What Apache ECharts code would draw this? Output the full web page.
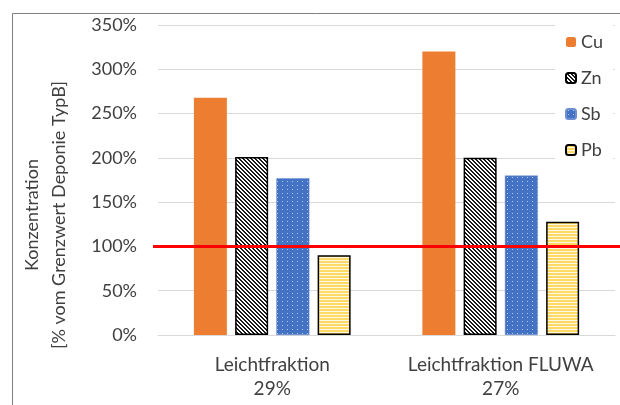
<!DOCTYPE html>
<html>
<head>
<meta charset="utf-8">
<script src="https://cdn.jsdelivr.net/npm/echarts@6/dist/echarts.min.js"></script>
<style>
  html, body { margin: 0; padding: 0; background: #fff; }
  #chart { width: 620px; height: 405px; }
</style>
</head>
<body>
<div id="chart"></div>
<script>
// Categories (two lines each: fraction name and share)
const categories = ['Leichtfraktion\n29%', 'Leichtfraktion FLUWA\n27%'];
// Concentrations in % of the landfill class B limit
const cu = [268, 320];
const zn = [201, 200];
const sb = [177, 180];
const pb = [90, 128];
const seriesNames = ['Cu', 'Zn', 'Sb', 'Pb'];
// Limit value line (100 %)
const limitValue = 100;
const limitX = [0, 1];
const yTicks = { min: 0, max: 350, interval: 50 };

const FONT = 'Lato';
const TXT = '#404040';

// Fill patterns built on small canvas tiles
function tile(w, h, draw) {
  const c = document.createElement('canvas');
  c.width = w; c.height = h;
  const ctx = c.getContext('2d');
  draw(ctx);
  return { image: c, repeat: 'repeat' };
}
const znFill = tile(4, 4, ctx => {
  ctx.fillStyle = '#ffffff'; ctx.fillRect(0, 0, 4, 4);
  ctx.fillStyle = '#1a1a1a';
  for (let y = 0; y < 4; y++) for (let x = 0; x < 4; x++) {
    const d = ((x - y) % 4 + 4) % 4;
    if (d === 0 || d === 1) ctx.fillRect(x, y, 1, 1);
  }
});
const sbFill = tile(5, 4, ctx => {
  ctx.fillStyle = '#4472C4'; ctx.fillRect(0, 0, 5, 4);
  ctx.fillStyle = '#b4c7ec';
  ctx.fillRect(2, 1, 1, 1);
});
const pbFill = tile(3, 3, ctx => {
  ctx.fillStyle = '#FFD966'; ctx.fillRect(0, 0, 3, 2);
  ctx.fillStyle = '#fff8e0'; ctx.fillRect(0, 2, 3, 1);
});

const chart = echarts.init(document.getElementById('chart'), null, { renderer: 'canvas' });

const barCommon = { type: 'bar', barWidth: 33, barGap: '25%', xAxisIndex: 0, yAxisIndex: 0 };

chart.setOption({
  animation: false,
  backgroundColor: '#fff',
  textStyle: { fontFamily: FONT },
  graphic: [{
    type: 'rect', left: 10, top: 11, z: -10,
    shape: { width: 700, height: 500 },
    style: { fill: 'none', stroke: '#7f7f7f', lineWidth: 1 }
  }],
  grid: [
    { left: 158, right: 5, top: 25, bottom: 70 },
    { left: 153, right: 0, top: 25, bottom: 70 }
  ],
  legend: {
    orient: 'vertical',
    left: 555, top: 24,
    padding: [8, 10, 8, 10],
    backgroundColor: '#fff',
    itemWidth: 10, itemHeight: 10,
    itemGap: 16,
    data: seriesNames,
    textStyle: { fontFamily: FONT, fontSize: 18, color: TXT, lineHeight: 20 }
  },
  xAxis: [
    {
      gridIndex: 0, type: 'category', data: categories,
      axisLine: { lineStyle: { color: '#d9d9d9', width: 1 } },
      axisTick: { show: false },
      axisLabel: { interval: 0, fontFamily: FONT, fontSize: 19, color: TXT, lineHeight: 24, margin: 18 }
    },
    { gridIndex: 1, type: 'value', min: 0, max: 1, show: false }
  ],
  yAxis: [
    {
      gridIndex: 0, type: 'value',
      min: yTicks.min, max: yTicks.max, interval: yTicks.interval,
      name: 'Konzentration\n[% vom Grenzwert Deponie TypB]',
      nameLocation: 'middle', nameGap: 85,
      nameTextStyle: { fontFamily: FONT, fontSize: 18, color: TXT, lineHeight: 27, padding: [0, 70, 0, 0] },
      axisLabel: { formatter: '{value}%', fontFamily: FONT, fontSize: 18, color: TXT, margin: 21 },
      splitLine: { lineStyle: { color: '#d9d9d9', width: 1 } },
      axisLine: { show: false }, axisTick: { show: false }
    },
    { gridIndex: 1, type: 'value', min: yTicks.min, max: yTicks.max, show: false }
  ],
  series: [
    Object.assign({ name: 'Cu', data: cu, itemStyle: { color: '#ED7D31' } }, barCommon),
    Object.assign({ name: 'Zn', data: zn, itemStyle: { color: znFill, borderColor: '#000', borderWidth: 1.5 } }, barCommon),
    Object.assign({ name: 'Sb', data: sb, itemStyle: { color: sbFill, borderColor: '#6d8fd0', borderWidth: 0.5 } }, barCommon),
    Object.assign({ name: 'Pb', data: pb, itemStyle: { color: pbFill, borderColor: '#000', borderWidth: 1.5 } }, barCommon),
    {
      name: 'Grenzwert', type: 'line', xAxisIndex: 1, yAxisIndex: 1,
      data: limitX.map(x => [x, limitValue]),
      symbol: 'none', z: 10,
      lineStyle: { color: '#ff0000', width: 3 }
    }
  ]
});
</script>
</body>
</html>
